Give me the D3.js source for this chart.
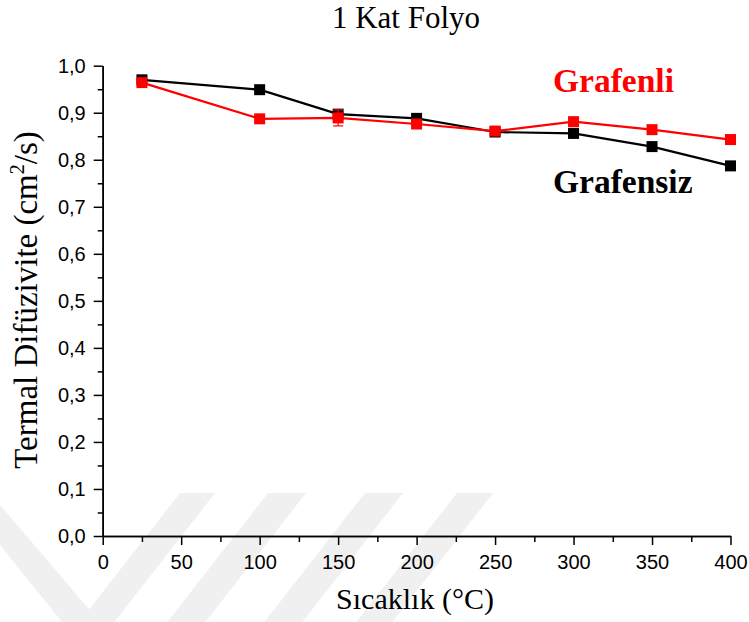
<!DOCTYPE html>
<html><head><meta charset="utf-8">
<script src="https://cdn.jsdelivr.net/npm/d3@7"></script>
<style>body{margin:0;background:#fff}svg{display:block}</style>
</head><body>
<script>
const temps = [25, 100, 150, 200, 250, 300, 350, 400];
const grafensiz = [0.970, 0.949, 0.897, 0.888, 0.859, 0.856, 0.828, 0.787];
const grafenli  = [0.964, 0.887, 0.889, 0.876, 0.861, 0.881, 0.864, 0.843];
const grafenliErr = [0.004, 0.004, 0.017, 0.004, 0.004, 0.004, 0.004, 0.004];
const grafensizErr = [0.004, 0.004, 0.005, 0.006, 0.004, 0.004, 0.004, 0.004];
const xTicks = [0, 50, 100, 150, 200, 250, 300, 350, 400];
const yTicks = [0, 0.1, 0.2, 0.3, 0.4, 0.5, 0.6, 0.7, 0.8, 0.9, 1.0];
const seriesNames = ["Grafenli", "Grafensiz"];
const seriesColors = ["#ff0000", "#000000"];

const W = 749, H = 622;
const svg = d3.select("body").append("svg").attr("width", W).attr("height", H);
const SERIF = "'Liberation Serif', 'Times New Roman', serif";
const SANS = "'Liberation Sans', Arial, sans-serif";

// faint watermark stripes
const wm = svg.append("g").attr("fill", "#f0f0f0");
[[180,215],[268,306],[365,403],[457,493]].forEach(([a,b]) => {
  const k = 0.78, t = 493, bt = 622;
  wm.append("polygon").attr("points",
    `${a},${t} ${b},${t} ${b-(bt-t)*k},${bt} ${a-(bt-t)*k},${bt}`);
});
wm.append("polygon").attr("points", `0,505 0,545 62,622 100,622`);

const x = d3.scaleLinear().domain([0, 400]).range([102.7, 730.5]);
const y = d3.scaleLinear().domain([0, 1]).range([536, 65.7]);

const fmt = d => d3.format(".1f")(d).replace(".", ",");

// axes
const xAxis = svg.append("g").attr("transform", `translate(0,${y(0)})`)
  .call(d3.axisBottom(x).tickValues(xTicks).tickSize(9).tickSizeOuter(0).tickPadding(10));
const xMinor = svg.append("g").attr("transform", `translate(0,${y(0)})`)
  .call(d3.axisBottom(x).tickValues(d3.range(25, 400, 50)).tickSize(6).tickFormat("").tickSizeOuter(0));
const yAxis = svg.append("g").attr("transform", `translate(${x(0)},0)`)
  .call(d3.axisLeft(y).tickValues(yTicks).tickFormat(fmt).tickSize(9).tickSizeOuter(0).tickPadding(8));
const yMinor = svg.append("g").attr("transform", `translate(${x(0)},0)`)
  .call(d3.axisLeft(y).tickValues(d3.range(0.05, 1, 0.1)).tickSize(5).tickFormat("").tickSizeOuter(0));
[xAxis, xMinor, yAxis, yMinor].forEach(g => {
  g.selectAll("path.domain").attr("stroke", "#000").attr("stroke-width", 1.6);
  g.selectAll(".tick line").attr("stroke", "#000").attr("stroke-width", 1.5);
  g.selectAll("text").attr("font-family", SANS)
    .attr("font-size", 20).attr("fill", "#000");
});

// series
const data = [
  {name: seriesNames[0], color: seriesColors[0], vals: grafenli, err: grafenliErr},
  {name: seriesNames[1], color: seriesColors[1], vals: grafensiz, err: grafensizErr}
];
const line = d3.line().x(d => x(d[0])).y(d => y(d[1]));
const order = [data[1], data[0]];
order.forEach(s => {
  const pts = temps.map((t, i) => [t, s.vals[i], s.err[i]]);
  svg.append("path").datum(pts).attr("d", line).attr("fill", "none")
    .attr("stroke", s.color).attr("stroke-width", 2.2);
  const g = svg.append("g");
  pts.forEach(p => {
    g.append("line").attr("x1", x(p[0])).attr("x2", x(p[0]))
      .attr("y1", y(p[1] - p[2])).attr("y2", y(p[1] + p[2]))
      .attr("stroke", s.color).attr("stroke-width", 1.2);
    [p[1] - p[2], p[1] + p[2]].forEach(v => g.append("line")
      .attr("x1", x(p[0]) - 5).attr("x2", x(p[0]) + 5)
      .attr("y1", y(v)).attr("y2", y(v)).attr("stroke", s.color).attr("stroke-width", 1.2));
    g.append("rect").attr("x", x(p[0]) - 5.5).attr("y", y(p[1]) - 5.5)
      .attr("width", 11).attr("height", 11).attr("fill", s.color);
  });
});

// legend labels
svg.append("text").attr("x", 553).attr("y", 92).text(seriesNames[0])
  .attr("font-family", SERIF).attr("font-weight", "bold")
  .attr("font-size", 33.5).attr("fill", seriesColors[0]);
svg.append("text").attr("x", 553).attr("y", 193).text(seriesNames[1])
  .attr("font-family", SERIF).attr("font-weight", "bold")
  .attr("font-size", 33.5).attr("fill", seriesColors[1]);

// titles
svg.append("text").attr("x", 406).attr("y", 28).attr("text-anchor", "middle")
  .attr("font-family", SERIF).attr("font-size", 31)
  .text("1 Kat Folyo");
svg.append("text").attr("x", 415).attr("y", 609).attr("text-anchor", "middle")
  .attr("font-family", SERIF).attr("font-size", 30)
  .text("Sıcaklık (°C)");
const yt = svg.append("text").attr("transform", "translate(37,300) rotate(-90)")
  .attr("text-anchor", "middle")
  .attr("font-family", SERIF).attr("font-size", 33);
yt.append("tspan").text("Termal Difüzivite (cm");
yt.append("tspan").text("2").attr("font-size", 20).attr("dy", -13);
yt.append("tspan").text("/s)").attr("dy", 13);
</script>
</body></html>
